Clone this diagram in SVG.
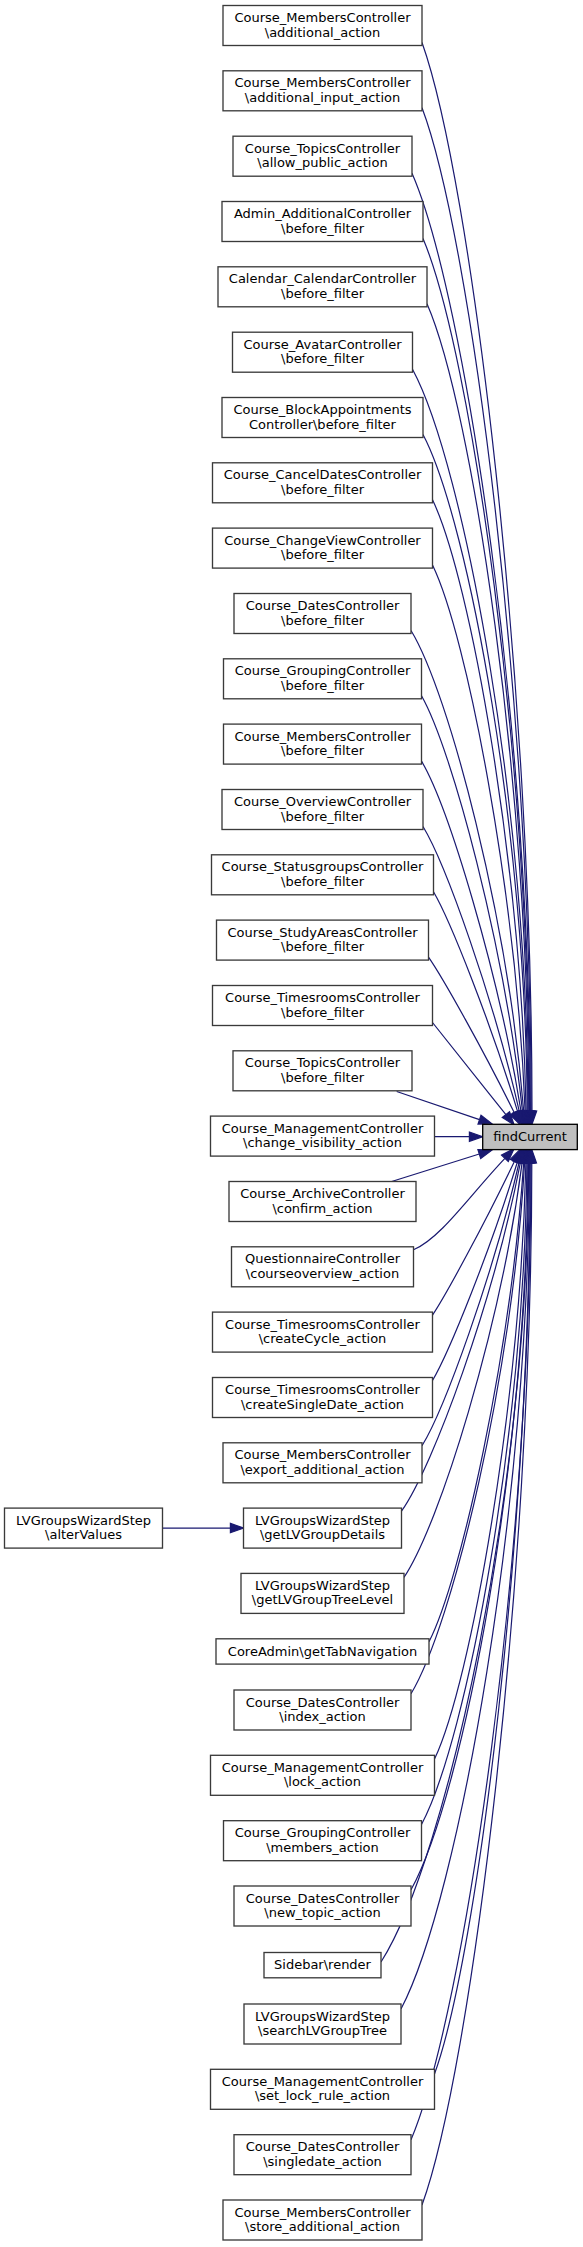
<svg xmlns="http://www.w3.org/2000/svg" width="583" height="2247" viewBox="0 0 583 2247">
<style>
.n rect{fill:#ffffff;stroke:#3a3a3a;stroke-width:1.33}
.r rect{fill:#bfbfbf;stroke:#000000;stroke-width:1.33}
text{font-family:"DejaVu Sans","Liberation Sans",sans-serif;font-size:13px;text-anchor:middle;fill:#000000}
.e path{fill:none;stroke:#191970;stroke-width:1.2;marker-end:url(#ah)}
</style>
<defs>
<marker id="ah" markerUnits="userSpaceOnUse" markerWidth="16" markerHeight="12" refX="1" refY="6" orient="auto" overflow="visible"><path d="M1,1.33 L14.3,6 L1,10.67 Z" fill="#191970" stroke="#191970" stroke-width="1.2"/></marker>
</defs>
<rect x="0" y="0" width="583" height="2247" fill="#ffffff"/>
<g id="edges" class="e">
<path d="M422,42.5 C471.5,181.4 532,683.6 532,1111"/>
<path d="M422,107.8 C471.1,238.2 531.2,709.7 531.2,1111"/>
<path d="M412,173.2 C465.3,295.1 530.4,735.9 530.4,1111"/>
<path d="M423,238.5 C471,351.9 529.6,762 529.6,1111"/>
<path d="M427,303.8 C472.8,408.7 528.8,788.1 528.8,1111"/>
<path d="M412.5,369.2 C464.5,465.6 528,814.3 528,1111"/>
<path d="M423,434.5 C469.2,522.4 526.4,840.4 527.2,1111"/>
<path d="M432.5,499.8 C470.7,579.3 521.2,866.5 526.1,1111"/>
<path d="M432.5,565.1 C467,636.1 516.2,892.6 525.1,1111"/>
<path d="M411,630.5 C449.1,693 508,918.8 523.7,1111"/>
<path d="M421.5,695.8 C452.1,749.8 504,945 522.5,1111.1"/>
<path d="M421.5,761.1 C448.3,806.6 498.4,971.2 521,1111.2"/>
<path d="M423,826.5 C445.5,863.5 493.3,997.4 519.3,1111.4"/>
<path d="M433.5,891.8 C450.2,920.4 491.2,1023.7 517.6,1111.6"/>
<path d="M428.5,957.1 C442.6,977.3 483.6,1050.4 514.2,1112.6"/>
<path d="M432.5,1022.5 C442,1034.5 476.5,1077.8 505.9,1114.6"/>
<path d="M396.7,1091.5 L479.5,1119.6"/>
<path d="M434.5,1136.7 L469.4,1136.7"/>
<path d="M391.7,1181.5 L479.3,1154"/>
<path d="M413.5,1249.8 C441,1238 470,1195 504.9,1158.3"/>
<path d="M432.5,1315.1 C445.9,1295.1 485,1222.9 514.4,1161.4"/>
<path d="M432.5,1380.5 C449.3,1352.1 490.6,1249.6 517.3,1162.3"/>
<path d="M422,1445.8 C444.6,1409 492.8,1275.8 519.1,1162.5"/>
<path d="M401.5,1511.1 C433.4,1465.8 493.3,1302 520.4,1162.6"/>
<path d="M404,1577.4 C439.8,1523.5 500.4,1328.6 522.1,1162.8"/>
<path d="M429,1641.8 C460.9,1579.5 510.4,1354.5 523.7,1162.9"/>
<path d="M411,1693.8 C452.5,1624.8 512.6,1375.3 524.6,1162.9"/>
<path d="M434.5,1759.1 C471.1,1681.6 520.2,1401.4 525.9,1162.9"/>
<path d="M421.5,1824.5 C467.3,1738.5 524.9,1427.5 526.9,1162.9"/>
<path d="M411,1889.8 C463.6,1795.3 527.8,1453.7 527.8,1162.9"/>
<path d="M381,1962 C447.4,1858.1 528.6,1482.5 528.6,1162.9"/>
<path d="M401,2009 C458.8,1899 529.4,1501.3 529.4,1162.9"/>
<path d="M434.5,2074 C477.6,1955.6 530.2,1527.3 530.2,1162.9"/>
<path d="M411,2139.7 C465,2012.7 531,1553.6 531,1162.9"/>
<path d="M422,2205 C471.4,2069.5 531.8,1579.7 531.8,1162.9"/>
<path d="M162.5,1528.1 L230.4,1528.1"/>
</g>
<g id="findCurrent" class="r"><rect x="482.7" y="1124.3" width="94.6" height="25.3"/><text x="530" y="1141">findCurrent</text></g>
<g id="n1" class="n"><rect x="223" y="5.5" width="199" height="40"/><text x="322.5" y="22">Course_MembersController</text><text x="322.5" y="36.5">\additional_action</text></g>
<g id="n2" class="n"><rect x="223" y="70.8" width="199" height="40"/><text x="322.5" y="87.3">Course_MembersController</text><text x="322.5" y="101.8">\additional_input_action</text></g>
<g id="n3" class="n"><rect x="233" y="136.2" width="179" height="40"/><text x="322.5" y="152.7">Course_TopicsController</text><text x="322.5" y="167.2">\allow_public_action</text></g>
<g id="n4" class="n"><rect x="222" y="201.5" width="201" height="40"/><text x="322.5" y="218">Admin_AdditionalController</text><text x="322.5" y="232.5">\before_filter</text></g>
<g id="n5" class="n"><rect x="218" y="266.8" width="209" height="40"/><text x="322.5" y="283.3">Calendar_CalendarController</text><text x="322.5" y="297.8">\before_filter</text></g>
<g id="n6" class="n"><rect x="232.5" y="332.2" width="180" height="40"/><text x="322.5" y="348.7">Course_AvatarController</text><text x="322.5" y="363.2">\before_filter</text></g>
<g id="n7" class="n"><rect x="222" y="397.5" width="201" height="40"/><text x="322.5" y="414">Course_BlockAppointments</text><text x="322.5" y="428.5">Controller\before_filter</text></g>
<g id="n8" class="n"><rect x="212.5" y="462.8" width="220" height="40"/><text x="322.5" y="479.3">Course_CancelDatesController</text><text x="322.5" y="493.8">\before_filter</text></g>
<g id="n9" class="n"><rect x="212.5" y="528.1" width="220" height="40"/><text x="322.5" y="544.6">Course_ChangeViewController</text><text x="322.5" y="559.1">\before_filter</text></g>
<g id="n10" class="n"><rect x="234" y="593.5" width="177" height="40"/><text x="322.5" y="610">Course_DatesController</text><text x="322.5" y="624.5">\before_filter</text></g>
<g id="n11" class="n"><rect x="223.5" y="658.8" width="198" height="40"/><text x="322.5" y="675.3">Course_GroupingController</text><text x="322.5" y="689.8">\before_filter</text></g>
<g id="n12" class="n"><rect x="223.5" y="724.1" width="198" height="40"/><text x="322.5" y="740.6">Course_MembersController</text><text x="322.5" y="755.1">\before_filter</text></g>
<g id="n13" class="n"><rect x="222" y="789.5" width="201" height="40"/><text x="322.5" y="806">Course_OverviewController</text><text x="322.5" y="820.5">\before_filter</text></g>
<g id="n14" class="n"><rect x="211.5" y="854.8" width="222" height="40"/><text x="322.5" y="871.3">Course_StatusgroupsController</text><text x="322.5" y="885.8">\before_filter</text></g>
<g id="n15" class="n"><rect x="216.5" y="920.1" width="212" height="40"/><text x="322.5" y="936.6">Course_StudyAreasController</text><text x="322.5" y="951.1">\before_filter</text></g>
<g id="n16" class="n"><rect x="212.5" y="985.5" width="220" height="40"/><text x="322.5" y="1002">Course_TimesroomsController</text><text x="322.5" y="1016.5">\before_filter</text></g>
<g id="n17" class="n"><rect x="233" y="1050.8" width="179" height="40"/><text x="322.5" y="1067.3">Course_TopicsController</text><text x="322.5" y="1081.8">\before_filter</text></g>
<g id="n18" class="n"><rect x="210.5" y="1116.1" width="224" height="40"/><text x="322.5" y="1132.6">Course_ManagementController</text><text x="322.5" y="1147.1">\change_visibility_action</text></g>
<g id="n19" class="n"><rect x="229" y="1181.5" width="187" height="40"/><text x="322.5" y="1198">Course_ArchiveController</text><text x="322.5" y="1212.5">\confirm_action</text></g>
<g id="n20" class="n"><rect x="231.5" y="1246.8" width="182" height="40"/><text x="322.5" y="1263.3">QuestionnaireController</text><text x="322.5" y="1277.8">\courseoverview_action</text></g>
<g id="n21" class="n"><rect x="212.5" y="1312.1" width="220" height="40"/><text x="322.5" y="1328.6">Course_TimesroomsController</text><text x="322.5" y="1343.1">\createCycle_action</text></g>
<g id="n22" class="n"><rect x="212.5" y="1377.5" width="220" height="40"/><text x="322.5" y="1394">Course_TimesroomsController</text><text x="322.5" y="1408.5">\createSingleDate_action</text></g>
<g id="n23" class="n"><rect x="223" y="1442.8" width="199" height="40"/><text x="322.5" y="1459.3">Course_MembersController</text><text x="322.5" y="1473.8">\export_additional_action</text></g>
<g id="n24" class="n"><rect x="243.5" y="1508.1" width="158" height="40"/><text x="322.5" y="1524.6">LVGroupsWizardStep</text><text x="322.5" y="1539.1">\getLVGroupDetails</text></g>
<g id="n25" class="n"><rect x="241" y="1573.4" width="163" height="40"/><text x="322.5" y="1589.9">LVGroupsWizardStep</text><text x="322.5" y="1604.4">\getLVGroupTreeLevel</text></g>
<g id="n26" class="n"><rect x="216" y="1638.8" width="213" height="25.3"/><text x="322.5" y="1655.5">CoreAdmin\getTabNavigation</text></g>
<g id="n27" class="n"><rect x="234" y="1690" width="177" height="40"/><text x="322.5" y="1706.5">Course_DatesController</text><text x="322.5" y="1721">\index_action</text></g>
<g id="n28" class="n"><rect x="210.5" y="1755.3" width="224" height="40"/><text x="322.5" y="1771.8">Course_ManagementController</text><text x="322.5" y="1786.3">\lock_action</text></g>
<g id="n29" class="n"><rect x="223.5" y="1820.7" width="198" height="40"/><text x="322.5" y="1837.2">Course_GroupingController</text><text x="322.5" y="1851.7">\members_action</text></g>
<g id="n30" class="n"><rect x="234" y="1886" width="177" height="40"/><text x="322.5" y="1902.5">Course_DatesController</text><text x="322.5" y="1917">\new_topic_action</text></g>
<g id="n31" class="n"><rect x="264" y="1952.5" width="117" height="25.3"/><text x="322.5" y="1969.2">Sidebar\render</text></g>
<g id="n32" class="n"><rect x="244" y="2004" width="157" height="40"/><text x="322.5" y="2020.5">LVGroupsWizardStep</text><text x="322.5" y="2035">\searchLVGroupTree</text></g>
<g id="n33" class="n"><rect x="210.5" y="2069.3" width="224" height="40"/><text x="322.5" y="2085.8">Course_ManagementController</text><text x="322.5" y="2100.3">\set_lock_rule_action</text></g>
<g id="n34" class="n"><rect x="234" y="2134.7" width="177" height="40"/><text x="322.5" y="2151.2">Course_DatesController</text><text x="322.5" y="2165.7">\singledate_action</text></g>
<g id="n35" class="n"><rect x="223" y="2200" width="199" height="40"/><text x="322.5" y="2216.5">Course_MembersController</text><text x="322.5" y="2231">\store_additional_action</text></g>
<g id="alterValues" class="n"><rect x="4.5" y="1508.1" width="158" height="40"/><text x="83.5" y="1524.6">LVGroupsWizardStep</text><text x="83.5" y="1539.1">\alterValues</text></g>
</svg>
